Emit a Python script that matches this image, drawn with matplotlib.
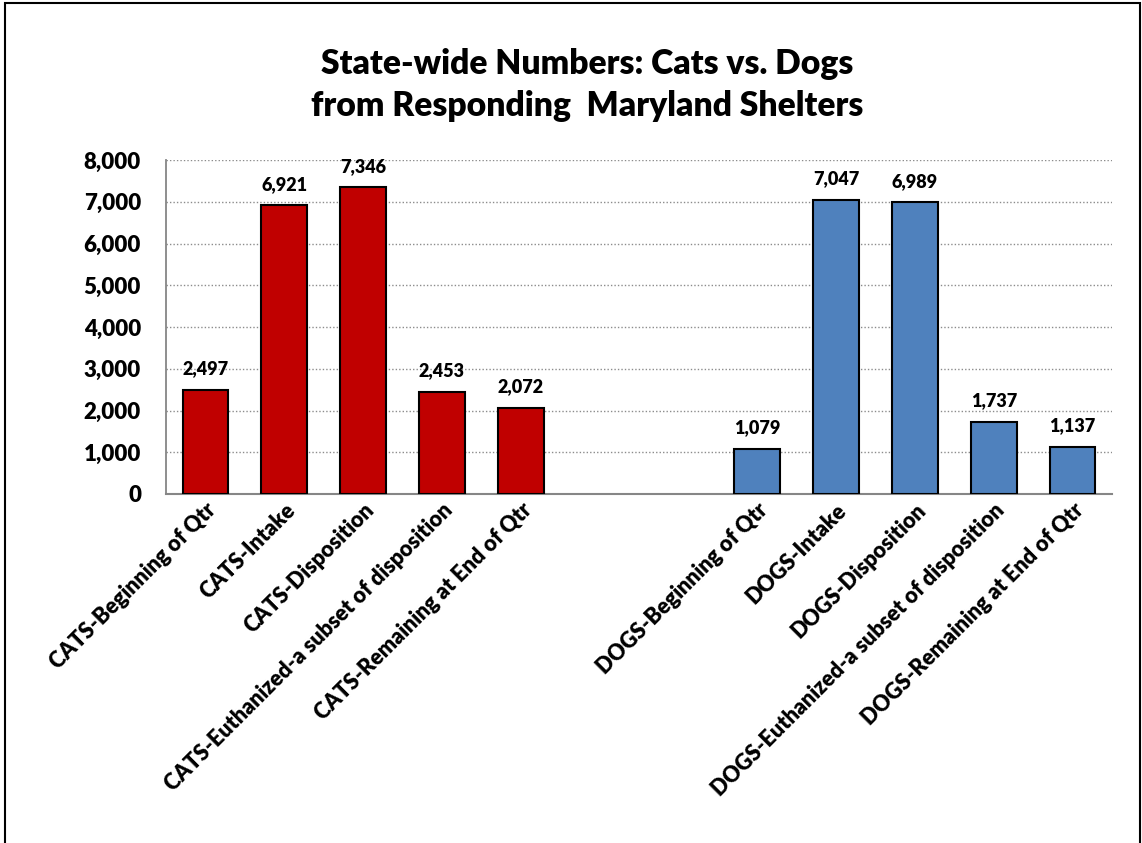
import numpy as np
import matplotlib.pyplot as plt
from matplotlib.patches import Rectangle

cat_labels = ['CATS-Beginning of Qtr', 'CATS-Intake', 'CATS-Disposition',
              'CATS-Euthanized-a subset of disposition', 'CATS-Remaining at End of Qtr']
cat_values = [2497, 6921, 7346, 2453, 2072]
dog_labels = ['DOGS-Beginning of Qtr', 'DOGS-Intake', 'DOGS-Disposition',
              'DOGS-Euthanized-a subset of disposition', 'DOGS-Remaining at End of Qtr']
dog_values = [1079, 7047, 6989, 1737, 1137]
y_ticks = [0, 1000, 2000, 3000, 4000, 5000, 6000, 7000, 8000]

plt.rcParams['font.family'] = ['Lato', 'DejaVu Sans']
W = 'heavy'

fig = plt.figure(figsize=(11.42, 8.43), dpi=100)
ax = fig.add_axes([0.1454, 0.414, 0.8283, 0.396])

# cats at 0..4, two empty slots, dogs at 7..11
cat_x = np.arange(5)
dog_x = np.arange(7, 12)
width = 0.58
ax.bar(cat_x, cat_values, width=width, color='#C00000', edgecolor='black', linewidth=1.5, zorder=3)
ax.bar(dog_x, dog_values, width=width, color='#4F81BD', edgecolor='black', linewidth=1.5, zorder=3)

for x, v in zip(list(cat_x) + list(dog_x), cat_values + dog_values):
    ax.annotate(f'{v:,}', (x, v), xytext=(0, 9), textcoords='offset points',
                ha='center', va='bottom', fontsize=13, fontweight=W)

ax.set_xlim(-0.5, 11.5)
ax.set_ylim(0, 8000)
ax.set_yticks(y_ticks)
ax.set_yticklabels([f'{t:,}' for t in y_ticks], fontsize=16, fontweight=W)
ax.tick_params(axis='y', length=0, pad=18)
ax.tick_params(axis='x', length=0, pad=4)
ax.set_xticks(list(cat_x) + list(dog_x))
ax.set_xticklabels(cat_labels + dog_labels, rotation=45, ha='right', va='top',
                   rotation_mode='anchor', fontsize=15.6, fontweight=W)

ax.grid(axis='y', linestyle=(0, (1, 1.5)), color='#8c8c8c', linewidth=1, zorder=0)
for s in ['top', 'right']:
    ax.spines[s].set_visible(False)
ax.spines['left'].set_color('#868686')
ax.spines['bottom'].set_color('#868686')
ax.spines['left'].set_linewidth(1.3)
ax.spines['bottom'].set_linewidth(1.5)

fig.text(0.514, 0.899, 'State-wide Numbers: Cats vs. Dogs\nfrom Responding  Maryland Shelters',
         ha='center', va='center', fontsize=24.2, fontweight=W, linespacing=1.38)

# outer chart border
fig.patches.append(Rectangle((0.004, -0.01), 0.994, 1.007, transform=fig.transFigure,
                             fill=False, edgecolor='black', linewidth=1.5))

fig.savefig('out.png', dpi=100)
